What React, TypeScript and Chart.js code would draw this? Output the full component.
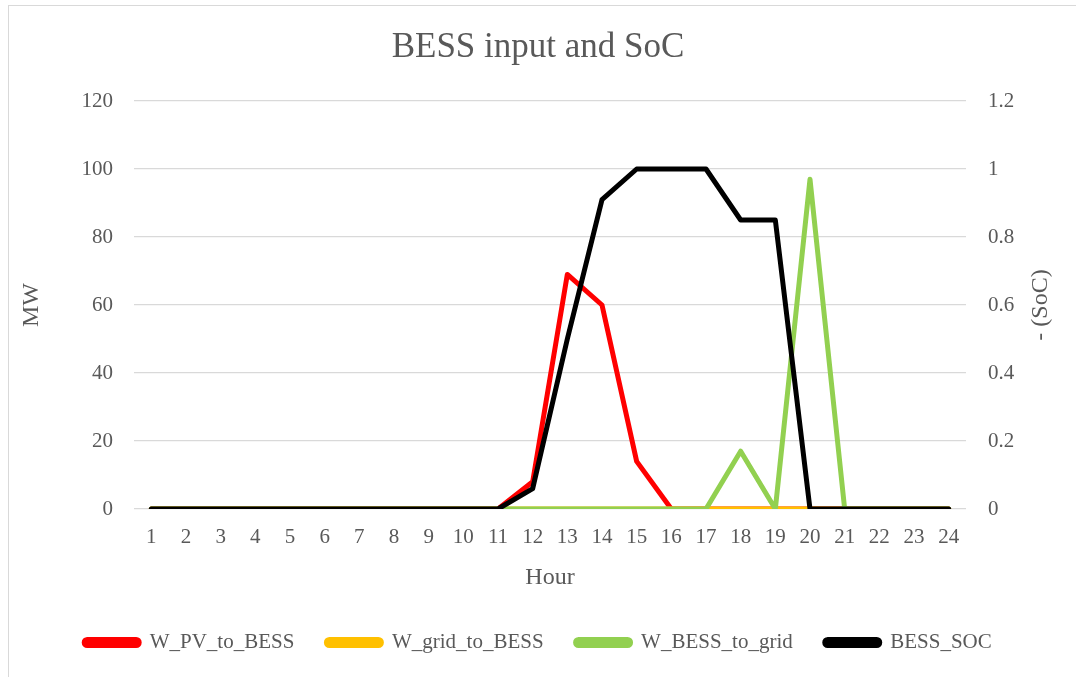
import React, { useEffect, useRef } from "react";
import { Chart, registerables } from "chart.js";

Chart.register(...registerables);

const hours = ["1","2","3","4","5","6","7","8","9","10","11","12","13","14","15","16","17","18","19","20","21","22","23","24"];
const pvToBess = [0,0,0,0,0,0,0,0,0,0,0,8,69,60,14,0,0,0,0,0,0,0,0,0];
const gridToBess = [0,0,0,0,0,0,0,0,0,0,0,0,0,0,0,0,0,0,0,0,0,0,0,0];
const bessToGrid = [0,0,0,0,0,0,0,0,0,0,0,0,0,0,0,0,0,17,0,97,0,0,0,0];
const bessSoc = [0,0,0,0,0,0,0,0,0,0,0,0.06,0.5,0.91,1,1,1,0.85,0.85,0,0,0,0,0];

const FONT = "'Liberation Serif', 'DejaVu Serif', serif";
const TEXT = "#595959";

const rightTitle = {
  id: "rightTitle",
  afterDraw(chart: any) {
    const ctx = chart.ctx;
    const area = chart.chartArea;
    ctx.save();
    ctx.translate(1041, (area.top + area.bottom) / 2);
    ctx.rotate(-Math.PI / 2);
    ctx.font = "24px " + FONT;
    ctx.fillStyle = TEXT;
    ctx.textAlign = "center";
    ctx.textBaseline = "middle";
    ctx.fillText("- (SoC)", 0, 0);
    ctx.restore();
  },
};

export default function App() {
  const ref = useRef<HTMLCanvasElement | null>(null);
  useEffect(() => {
    if (!ref.current) return;
    const ds = (label: string, data: number[], color: string, axis: string, order: number) => ({
      label,
      data,
      borderColor: color,
      backgroundColor: color,
      borderWidth: 5,
      pointRadius: 0,
      tension: 0,
      borderCapStyle: "round",
      borderJoinStyle: "round",
      yAxisID: axis,
      order,
      fill: false,
    });
    const chart = new Chart(ref.current, {
      type: "line",
      data: {
        labels: hours,
        datasets: [
          ds("W_PV_to_BESS", pvToBess, "#FF0000", "y", 3),
          ds("W_grid_to_BESS", gridToBess, "#FFC000", "y", 2),
          ds("W_BESS_to_grid", bessToGrid, "#92D050", "y", 1),
          ds("BESS_SOC", bessSoc, "#000000", "y1", 0),
        ] as any,
      },
      options: {
        animation: false,
        responsive: false,
        maintainAspectRatio: false,
        layout: { padding: { left: 0, right: 0, top: 0, bottom: 14 } },
        font: { family: FONT },
        plugins: {
          title: {
            display: true,
            text: "BESS input and SoC",
            color: TEXT,
            font: { family: FONT, size: 35, weight: "normal" },
            padding: { top: 27, bottom: 32 },
          },
          legend: {
            position: "bottom",
            labels: {
              boxWidth: 55,
              boxHeight: 6,
              useBorderRadius: true,
              borderRadius: 3,
              padding: 32,
              color: TEXT,
              font: { family: FONT, size: 21 },
              sort: (a: any, b: any) => a.datasetIndex - b.datasetIndex,
            },
          },
          tooltip: { enabled: false },
        },
        scales: {
          x: {
            type: "category",
            offset: true,
            grid: { display: false, drawTicks: false },
            border: { display: false },
            ticks: { color: TEXT, font: { family: FONT, size: 21 }, padding: 16, maxRotation: 0, autoSkip: false },
            title: {
              display: true,
              text: "Hour",
              color: TEXT,
              font: { family: FONT, size: 24 },
              padding: { top: 0, bottom: 8 },
            },
            afterFit: (s: any) => { s.height = 91; },
          },
          y: {
            type: "linear",
            position: "left",
            min: 0,
            max: 120,
            ticks: { stepSize: 20, color: TEXT, font: { family: FONT, size: 21 }, padding: 21 },
            grid: { color: "#d9d9d9", lineWidth: 1.3, drawTicks: false },
            border: { display: false },
            title: {
              display: true,
              text: "MW",
              color: TEXT,
              font: { family: FONT, size: 24 },
              padding: { top: 17, bottom: 0 },
            },
            afterFit: (s: any) => { s.width = 134; },
          },
          y1: {
            type: "linear",
            position: "right",
            min: 0,
            max: 1.2,
            ticks: { stepSize: 0.2, color: TEXT, font: { family: FONT, size: 21 }, padding: 22,
              callback: (v: any) => String(Math.round(Number(v) * 10) / 10) },
            grid: { display: false, drawTicks: false },
            border: { display: false },
            afterFit: (s: any) => { s.width = 110; },
          },
        },
      } as any,
      plugins: [rightTitle],
    });
    return () => chart.destroy();
  }, []);

  return (
    <div>
      <div style={{ position: "fixed", left: 8, top: 5, width: 1100, height: 700, border: "1px solid #d9d9d9", boxSizing: "border-box" }} />
      <canvas ref={ref} width={1076} height={677} style={{ position: "fixed", left: 0, top: 0, width: 1076, height: 677 }} />
    </div>
  );
}
